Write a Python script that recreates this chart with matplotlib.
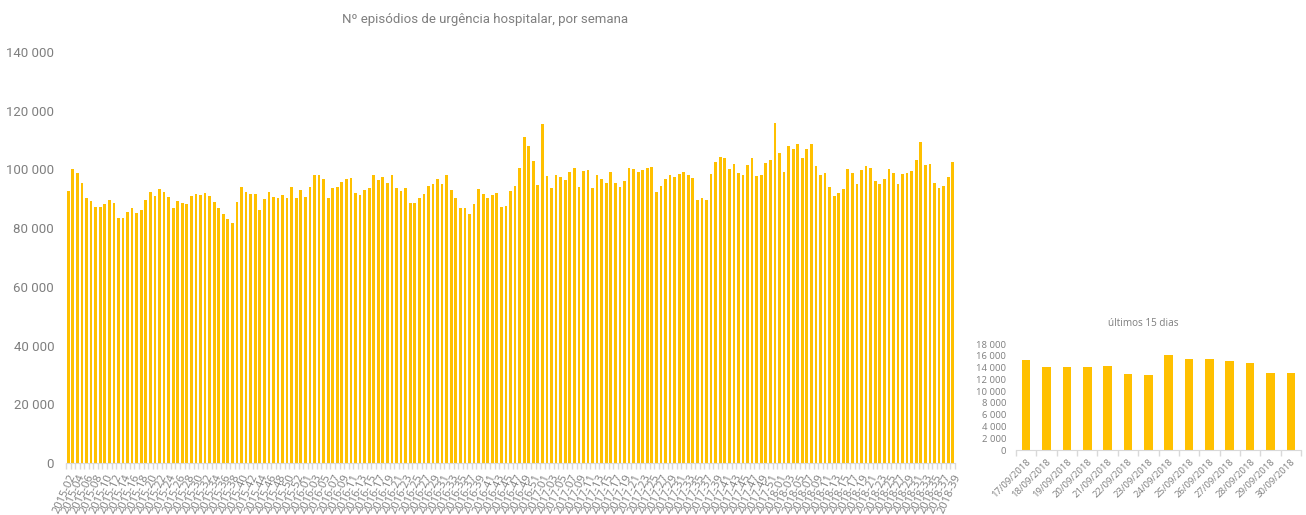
import matplotlib
matplotlib.use("Agg")
import matplotlib.pyplot as plt
import numpy as np

# weekly values (2015-02 .. 2018-39)
vals_2015 = [92700, 100200, 98800, 95400, 90100, 89200, 87200, 87200, 88200, 89600,
             88500, 83400, 83400, 85400, 86800, 85100, 86100, 89600, 92300, 91000,
             93200, 92300, 90700, 87000, 89300, 88500, 88100, 91000, 91700, 91300,
             91900, 91000, 88900, 87000, 84800, 83000, 81700, 88900, 93900, 92300,
             91500, 91500, 86100, 89800, 92300, 90700, 90100, 91300, 90400, 94100,
             90400, 93000]
vals_2016 = [90700, 94100, 98100, 98100, 96700, 90400, 93600, 94100,
             95700, 96700, 97000, 91900, 91300, 93000, 93600, 98100, 96400, 97300,
             95400, 98100, 93800, 92700, 93800, 88500, 88500, 90100, 91500, 94400,
             95100, 96700, 95100, 98100, 92900, 90100, 87000, 86700, 84700, 88100,
             93200, 91500, 90100, 91300, 91900, 87200, 87600, 92700, 94400, 100600,
             111000, 108100, 102800, 94700]
vals_2017 = [115400, 97800, 93800, 98100, 97400, 96500,
             99100, 100400, 94000, 99500, 99700, 93800, 98100, 96700, 95400, 99100,
             95400, 94100, 96100, 100400, 100100, 99100, 99800, 100400, 100700, 92300,
             94500, 96700, 98100, 97300, 98500, 99100, 98100, 97000, 89500, 90100,
             89500, 98500, 102600, 104400, 104000, 100100, 101900, 98800, 98100, 101600,
             103800, 97600, 98100, 102200, 103200, 115700]
vals_2018 = [105600, 99100, 108100, 106900,
             108500, 103800, 106900, 108600, 101300, 98100, 98800, 94100, 91000, 91900,
             93200, 100100, 98800, 95100, 99700, 101000, 100400, 96100, 95100, 96900,
             100100, 98800, 95100, 98500, 98800, 99500, 103200, 109400, 101600, 101900,
             95400, 93600, 94400, 97300, 102600]

weeks = ([f"2015-{w:02d}" for w in range(2, 54)] + [f"2016-{w:02d}" for w in range(1, 53)]
         + [f"2017-{w:02d}" for w in range(1, 53)] + [f"2018-{w:02d}" for w in range(1, 40)])
weekly = vals_2015 + vals_2016 + vals_2017 + vals_2018

# last 15 days
days = ["17/09/2018", "18/09/2018", "19/09/2018", "20/09/2018", "21/09/2018", "22/09/2018",
        "23/09/2018", "24/09/2018", "25/09/2018", "26/09/2018", "27/09/2018", "28/09/2018",
        "29/09/2018", "30/09/2018"]
daily = [15300, 14150, 14150, 14150, 14250, 12900, 12800, 16200, 15400, 15400, 15150,
         14700, 13150, 13150]

gold = "#FFC000"
grey = "#7F7F7F"
light = "#D9D9D9"
narrow = ["Roboto", "DejaVu Sans"]
sans = ["Open Sans", "DejaVu Sans"]
fmt = lambda v, p: f"{int(v):,}".replace(",", " ")

fig = plt.figure(figsize=(13.06, 5.15), dpi=100)

# main weekly chart
ax = fig.add_axes([66 / 1306, 1 - 463 / 515, 889 / 1306, 411 / 515])
x = np.arange(len(weekly))
ax.bar(x, weekly, width=0.6, color=gold)
ax.set_xlim(-0.5, len(weekly) - 0.5)
ax.set_ylim(0, 140000)
ax.set_yticks(np.arange(0, 140001, 20000))
ax.yaxis.set_major_formatter(matplotlib.ticker.FuncFormatter(fmt))
for lab in ax.get_yticklabels():
    lab.set_family(narrow)
ax.tick_params(axis="y", length=0, pad=8.5, labelsize=9.5, labelcolor=grey)
ax.set_xticks(x[::2])
ax.set_xticklabels(weeks[::2], rotation=66, ha="right", rotation_mode="anchor",
                   fontsize=8, color=grey, family=sans)
ax.tick_params(axis="x", which="major", length=0, pad=7)
ax.set_xticks(np.arange(-0.5, len(weekly), 1), minor=True)
ax.tick_params(axis="x", which="minor", length=4, color=light, width=1)
for side in ["top", "right", "left"]:
    ax.spines[side].set_visible(False)
ax.spines["bottom"].set_color(light)
fig.text(485 / 1306, 1 - 19 / 515, "Nº episódios de urgência hospitalar, por semana",
         ha="center", va="center", fontsize=9.5, color=grey, family=narrow)

# small daily chart
ax2 = fig.add_axes([1016 / 1306, 1 - 450 / 515, 285 / 1306, 106 / 515])
x2 = np.arange(len(daily))
ax2.bar(x2, daily, width=0.42, color=gold)
ax2.set_xlim(-0.5, len(daily) - 0.5)
ax2.set_ylim(0, 18000)
ax2.set_yticks(np.arange(0, 18001, 2000))
ax2.yaxis.set_major_formatter(matplotlib.ticker.FuncFormatter(fmt))
ax2.tick_params(axis="y", length=0, pad=7, labelsize=6.8, labelcolor=grey)
for lab in ax2.get_yticklabels():
    lab.set_family(sans)
ax2.set_xticks(x2)
ax2.set_xticklabels(days, rotation=45, ha="right", rotation_mode="anchor",
                    fontsize=6.8, color=grey, family=sans)
ax2.tick_params(axis="x", which="major", length=0, pad=5)
ax2.set_xticks(np.arange(-0.5, len(daily), 1), minor=True)
ax2.tick_params(axis="x", which="minor", length=4, color=light, width=1)
for side in ["top", "right", "left"]:
    ax2.spines[side].set_visible(False)
ax2.spines["bottom"].set_color(light)
fig.text(1143 / 1306, 1 - 323 / 515, "últimos 15 dias", ha="center", va="center",
         fontsize=7.2, color=grey, family=sans)

fig.savefig("out.png", dpi=100)
